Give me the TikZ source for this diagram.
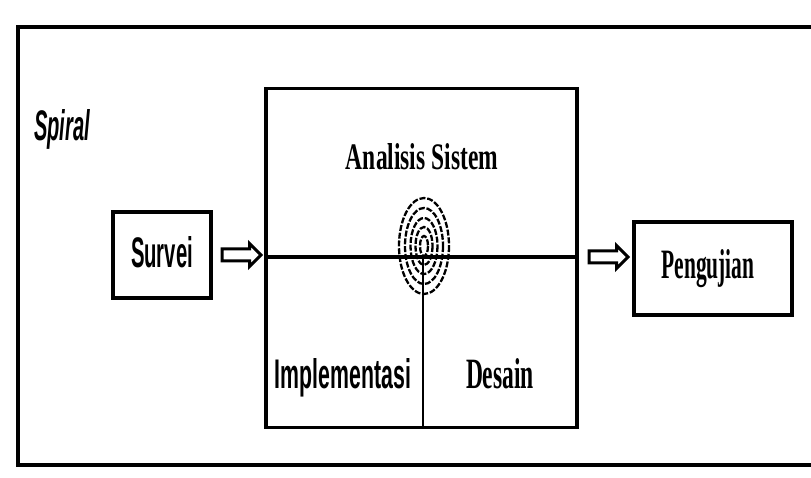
\documentclass[tikz,border=0pt]{standalone}
\usepackage{fontspec}
\setmainfont{Liberation Serif}
\setsansfont{Liberation Sans}
\usepackage{graphicx}
\usetikzlibrary{shapes.arrows}
% squeeze a word into a given width and height (in bp)
\newcommand{\sizedtext}[3]{\resizebox{#1bp}{#2bp}{#3}}

\begin{document}
\begin{tikzpicture}[x=1bp,y=-1bp,
  rule/.style={line width=4.5bp},
  panel/.style={draw, line width=3.2bp, inner sep=0pt},
  label/.style={inner sep=0pt, anchor=base},
  blockarrow/.style={single arrow, draw, fill=white, line width=3bp,
    minimum height=39bp, text height=4.5bp, text depth=4.5bp,
    single arrow head extend=5.5bp, inner sep=0pt},
  ring/.style={line width=2.3bp, dash pattern=on 6bp off 1.8bp}]
\useasboundingbox (0,0) rectangle (811,478);

% frame, open on the right
\draw[rule] (811,27) -- (18,27) -- (18,465) -- (811,465);

% the four-quadrant cycle
\node[panel, minimum width=311bp, minimum height=339bp] (cycle) at (421.5,258) {};
\coordinate (hub) at (423,257);
\draw[line width=3.4bp] (cycle.west |- hub) -- (cycle.east |- hub);
\draw[line width=2.4bp] (hub) -- (hub |- cycle.south);

% spiral rings around the hub
\coordinate (eye) at (424,246);
\foreach \rx/\ry in {25/48, 19/38, 13.5/28, 8.5/19, 4/10}
  \draw[ring] (eye) ellipse [x radius=\rx, y radius=\ry];

% side boxes
\node[panel, minimum width=98bp, minimum height=86bp] (survei) at (162,255) {};
\node[panel, minimum width=158bp, minimum height=93bp] (uji) at (713,268.5) {};

% hollow arrows between the stages
\path (survei.east) -- (cycle.west |- survei.east) node[blockarrow, midway] (a1) {};
\path (cycle.east |- hub) -- (uji.west |- hub) node[blockarrow, midway] (a2) {};

% labels
\node[label, anchor=base west] (title) at (34,141) {\sizedtext{56}{31}{\sffamily\bfseries\itshape Spiral}};
\node[label] (analisis) at (422,170) {\sizedtext{152}{26}{\bfseries Analisis Sistem}};
\node[label] (surveitext) at (162,268) {\sizedtext{62}{31}{\sffamily\bfseries Survei}};
\node[label] (ujitext) at (708,279) {\sizedtext{93}{29}{\bfseries Pengujian}};
\node[label] (impl) at (343,388) {\sizedtext{136}{30}{\sffamily\bfseries Implementasi}};
\node[label] (desain) at (500,388) {\sizedtext{68}{30}{\bfseries Desain}};
\end{tikzpicture}
\end{document}
